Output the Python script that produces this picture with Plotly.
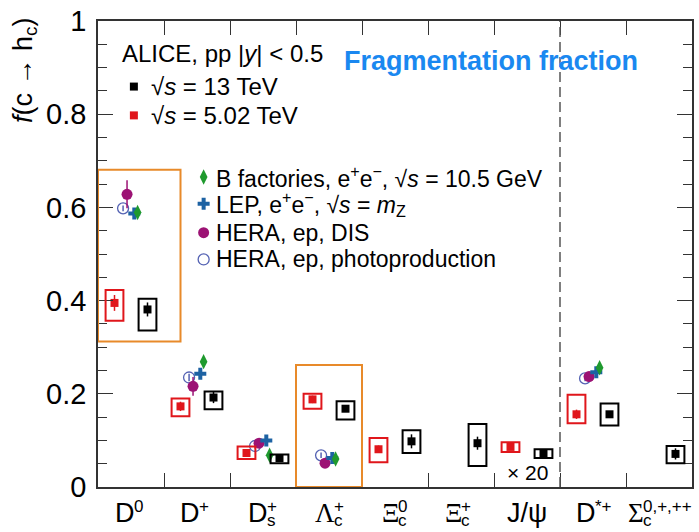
import plotly.graph_objects as go

# ---------------------------------------------------------------- data
categories = ["D0", "D+", "Ds+", "Lc+", "Xic0", "Xic+", "Jpsi", "D*+", "Sigmac"]

# ALICE pp, sqrt(s) = 13 TeV
alice13_val = [0.381, 0.192, 0.062, 0.168, 0.098, 0.094, 0.071, 0.156, 0.071]
alice13_stat = [0.015, 0.012, 0.004, 0.005, 0.015, 0.014, 0.004, 0.006, 0.012]
alice13_sys_hi = [0.023, 0.013, 0.008, 0.016, 0.024, 0.041, 0.010, 0.023, 0.017]
alice13_sys_lo = [0.045, 0.025, 0.011, 0.023, 0.025, 0.049, 0.009, 0.024, 0.020]

# ALICE pp, sqrt(s) = 5.02 TeV
alice5_val = [0.395, 0.173, 0.073, 0.188, 0.081, None, 0.086, 0.156, None]
alice5_stat = [0.017, 0.010, 0.005, 0.008, 0.008, None, 0.004, 0.010, None]
alice5_sys_hi = [0.028, 0.017, 0.014, 0.012, 0.024, None, 0.010, 0.042, None]
alice5_sys_lo = [0.038, 0.021, 0.013, 0.020, 0.028, None, 0.011, 0.019, None]

# e+e- and ep measurements (D0, D+, Ds+, Lc+, D*+)
bfact_val = [0.589, 0.269, 0.068, 0.060, None, None, None, 0.256, None]
bfact_err = [0.005, 0.006, 0.004, 0.004, None, None, None, 0.006, None]
lep_val = [0.587, 0.243, 0.100, 0.062, None, None, None, 0.246, None]
lep_err = [0.008, 0.008, 0.005, 0.004, None, None, None, 0.006, None]
heradis_val = [0.628, 0.216, 0.094, 0.051, None, None, None, 0.237, None]
heradis_err = [0.030, 0.020, 0.010, 0.010, None, None, None, 0.010, None]
herapho_val = [0.598, 0.235, 0.088, 0.068, None, None, None, 0.233, None]
herapho_err = [0.006, 0.008, 0.006, 0.006, None, None, None, 0.006, None]

# highlighted regions (x in category units, y in f)
highlight_x0 = [0.0, 3.0]
highlight_x1 = [1.25, 4.0]
highlight_y0 = [0.312, 0.0]
highlight_y1 = [0.681, 0.262]

jpsi_scale_text = "× 20"

# ---------------------------------------------------------------- style
W, H = 699, 532
ML, MR, MT, MB = 98, 5, 18, 45
PW, PH = W - ML - MR, H - MT - MB
NCAT = len(categories)

FONT = "Liberation Sans, Arial, sans-serif"
SERIF = "Liberation Serif, Times New Roman, serif"
RED = "#e0161b"
BLACK = "#000000"
GREEN = "#1f9a2e"
BLUE = "#1d62a3"
PURPLE = "#9c1274"
OPENBLUE = "#5462b3"
ORANGE = "#e88a2a"
TITLEBLUE = "#1a88f0"

BOX_HALF = 0.135
OFF_13, OFF_5 = 0.25, -0.25
OFF = {"bfact": 0.10, "lep": 0.05, "heradis": -0.06, "herapho": -0.12}


def px_x(p):
    """pixel column -> paper x"""
    return (p - ML) / PW


def px_y(p):
    """pixel row -> paper y"""
    return (H - MB - p) / PH


fig = go.Figure()
shapes = []


def alice_series(vals, stat, hi, lo, off, color, name):
    xs, ys, es = [], [], []
    for i, v in enumerate(vals):
        if v is None:
            continue
        x = i + 0.5 + off
        xs.append(x)
        ys.append(v)
        es.append(stat[i])
        shapes.append(dict(type="rect", xref="x", yref="y",
                           x0=x - BOX_HALF, x1=x + BOX_HALF,
                           y0=v - lo[i], y1=v + hi[i],
                           line=dict(color=color, width=2),
                           fillcolor="rgba(0,0,0,0)", layer="above"))
    fig.add_trace(go.Scatter(
        x=xs, y=ys, mode="markers", name=name, showlegend=False,
        marker=dict(symbol="square", size=8, color=color),
        error_y=dict(type="data", array=es, visible=True, color=color,
                     thickness=1.5, width=0)))


alice_series(alice5_val, alice5_stat, alice5_sys_hi, alice5_sys_lo, OFF_5, RED, "5.02 TeV")
alice_series(alice13_val, alice13_stat, alice13_sys_hi, alice13_sys_lo, OFF_13, BLACK, "13 TeV")


def other_series(vals, errs, off, marker, name):
    xs, ys, es = [], [], []
    for i, v in enumerate(vals):
        if v is None:
            continue
        xs.append(i + 0.5 + off)
        ys.append(v)
        es.append(errs[i])
    fig.add_trace(go.Scatter(
        x=xs, y=ys, mode="markers", name=name, showlegend=False,
        marker=marker,
        error_y=dict(type="data", array=es, visible=True,
                     color=marker.get("color", marker.get("line", {}).get("color")),
                     thickness=1.5, width=0)))


M_HERAPHO = dict(symbol="circle-open", size=11, color=OPENBLUE, line=dict(width=1.3, color=OPENBLUE))
M_HERADIS = dict(symbol="circle", size=11, color=PURPLE)
M_LEP = dict(symbol="cross", size=10, color=BLUE)
M_BFACT = dict(symbol="diamond-tall", size=11, color=GREEN)

other_series(herapho_val, herapho_err, OFF["herapho"], M_HERAPHO, "HERA photoproduction")
other_series(heradis_val, heradis_err, OFF["heradis"], M_HERADIS, "HERA DIS")
other_series(lep_val, lep_err, OFF["lep"], M_LEP, "LEP")
other_series(bfact_val, bfact_err, OFF["bfact"], M_BFACT, "B factories")

# highlighted category groups
for x0, x1, y0, y1 in zip(highlight_x0, highlight_x1, highlight_y0, highlight_y1):
    shapes.append(dict(type="rect", xref="x", yref="y", x0=x0, x1=x1, y0=y0, y1=y1,
                       line=dict(color=ORANGE, width=2), fillcolor="rgba(0,0,0,0)",
                       layer="above"))

# separator between ground-state hadrons and D*+ / Sigma_c
shapes.append(dict(type="line", xref="x", yref="paper", x0=7, x1=7, y0=0, y1=1,
                   line=dict(color="#555555", width=1.5, dash="10px,5px")))

# ---------------------------------------------------------------- legend keys
KEY_ALICE_X = px_x(134) * NCAT
KEY_ALICE_Y = [px_y(84), px_y(113)]
KEY_OTHER_X = px_x(204) * NCAT
KEY_OTHER_Y = [px_y(175), px_y(202), px_y(231), px_y(258)]

for y, c in zip(KEY_ALICE_Y, [BLACK, RED]):
    fig.add_trace(go.Scatter(x=[KEY_ALICE_X], y=[y], mode="markers", showlegend=False,
                             hoverinfo="skip",
                             marker=dict(symbol="square", size=8, color=c)))
for y, m in zip(KEY_OTHER_Y, [M_BFACT, M_LEP, M_HERADIS, M_HERAPHO]):
    fig.add_trace(go.Scatter(x=[KEY_OTHER_X], y=[y], mode="markers", showlegend=False,
                             hoverinfo="skip", marker=m))

ann = []


def text(x, y, s, size, xanchor="left", yanchor="middle", color=BLACK, family=FONT, **kw):
    ann.append(dict(x=x, y=y, xref="paper", yref="paper", text=s, showarrow=False,
                    xanchor=xanchor, yanchor=yanchor, borderpad=0, borderwidth=0,
                    font=dict(size=size, color=color, family=family), **kw))


text(px_x(122), px_y(51), "ALICE, pp |<i>y</i>| &lt; 0.5", 24)
text(px_x(151), px_y(84), "√<i>s</i> = 13 TeV", 24)
text(px_x(151), px_y(113), "√<i>s</i> = 5.02 TeV", 24)

legend_other = [
    "B factories, e<sup>+</sup>e<sup>−</sup>, √<i>s</i> = 10.5 GeV",
    "LEP, e<sup>+</sup>e<sup>−</sup>, √<i>s</i> = <i>m</i><sub>Z</sub>",
    "HERA, ep, DIS",
    "HERA, ep, photoproduction",
]
for y, s in zip([175, 202, 231, 258], legend_other):
    text(px_x(216), px_y(y), s, 23)

text(px_x(492), px_y(58), "<b>Fragmentation fraction</b>", 27, xanchor="center",
     color=TITLEBLUE)

text((6.5) / NCAT, px_y(472), jpsi_scale_text, 21, xanchor="center")

# y-axis title
text(px_x(24), px_y(68), "<i>f</i>(c → h<sub>c</sub>)", 27, xanchor="center",
     textangle=-90)

# ---------------------------------------------------------------- category labels
# (base, superscript, subscript, base font, pixel split between base and scripts)
cat_labels = [
    ("D", "0", "", FONT, 3),
    ("D", "+", "", FONT, 2),
    ("D", "+", "s", FONT, 4),
    ("Λ", "+", "c", SERIF, 5),
    ("Ξ", "0", "c", SERIF, 3),
    ("Ξ", "+", "c", SERIF, 0),
    ("J/ψ", "", "", FONT, None),
    ("D", "*+", "", FONT, 2),
    ("Σ", "0,+,++", "c", SERIF, -16),
]


def cat_text(xc, s, size, fam, xanchor, xshift, yshift):
    ann.append(dict(x=xc, y=0, xref="paper", yref="paper", text=s, showarrow=False,
                    xanchor=xanchor, yanchor="middle", xshift=xshift, yshift=yshift,
                    borderpad=0, borderwidth=0,
                    font=dict(size=size, family=fam, color=BLACK)))


for i, (base, sup, sub, fam, split) in enumerate(cat_labels):
    xc = (i + 0.5) / NCAT
    if split is None:
        cat_text(xc, base, 27, FONT, "center", 0, -26)
        continue
    cat_text(xc, base, 27, fam, "right", split + 1, -26)
    if sup:
        cat_text(xc, sup, 17, FONT, "left", split, -19)
    if sub:
        cat_text(xc, sub, 17, FONT, "left", split, -33)

fig.update_layout(
    width=W, height=H,
    margin=dict(l=ML, r=MR, t=MT, b=MB, pad=0),
    paper_bgcolor="white", plot_bgcolor="white",
    font=dict(family=FONT, color=BLACK),
    showlegend=False,
    shapes=shapes,
    annotations=ann,
    xaxis=dict(range=[0, NCAT], tickvals=list(range(1, NCAT)), showticklabels=False,
               ticks="inside", ticklen=14, tickwidth=1.3, tickcolor="#333333",
               showline=True, linecolor="#333333", linewidth=1.5, mirror="ticks",
               showgrid=False, zeroline=False, fixedrange=True),
    yaxis=dict(range=[0, 1], tickvals=[0, 0.2, 0.4, 0.6, 0.8, 1],
               ticktext=["0", "0.2", "0.4", "0.6", "0.8", "1"],
               tickfont=dict(size=29, family=FONT, color=BLACK),
               ticks="inside", ticklen=15, tickwidth=1.3, tickcolor="#333333",
               minor=dict(dtick=0.05, ticks="inside", ticklen=9, tickwidth=1.3,
                          tickcolor="#333333", showgrid=False),
               ticklabelstandoff=4,
               showline=True, linecolor="#333333", linewidth=1.5, mirror="ticks",
               showgrid=False, zeroline=False, fixedrange=True),
)

fig.write_html("out.html")
